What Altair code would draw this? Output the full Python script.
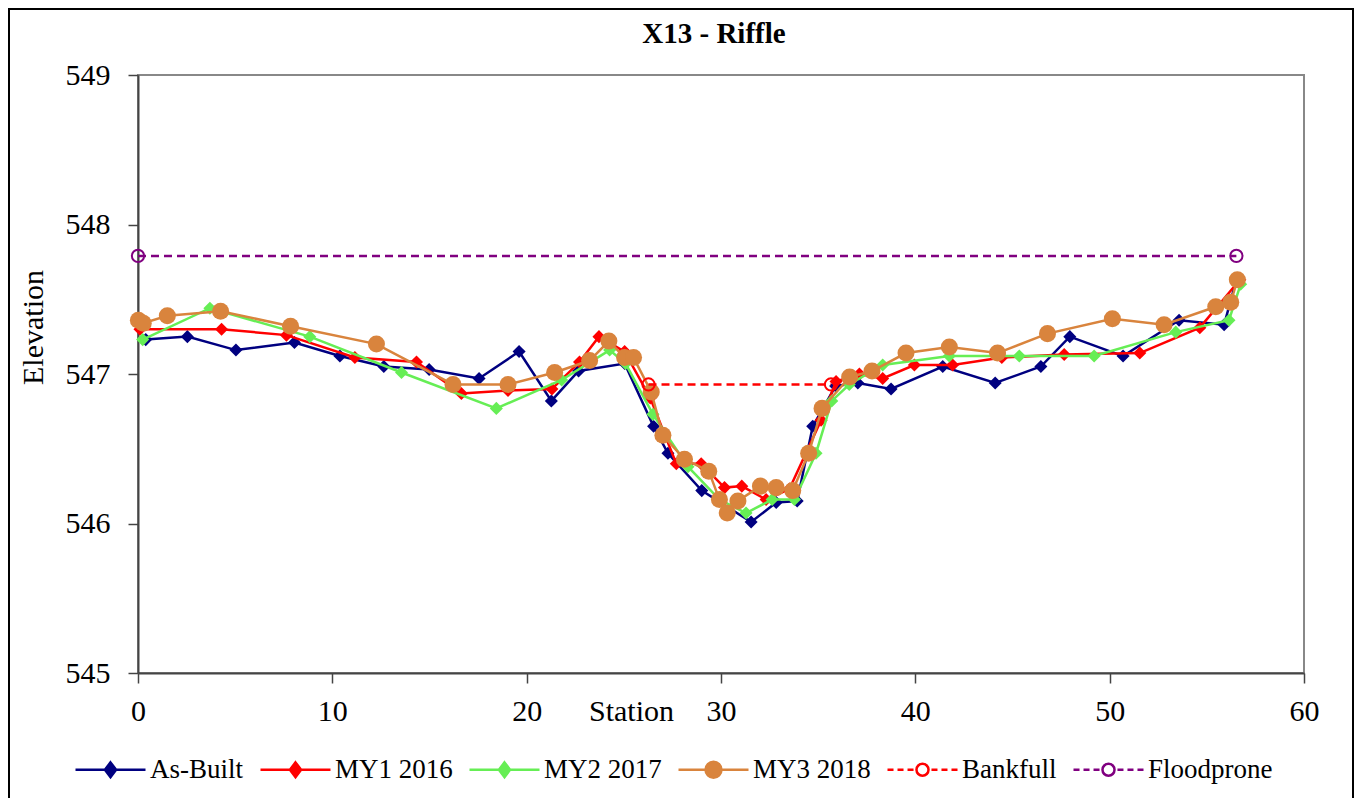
import altair as alt
import pandas as pd

# ---------------- data ----------------
series_names = ["As-Built", "MY1 2016", "MY2 2017", "MY3 2018", "Bankfull", "Floodprone"]
series_colors = ["#000080", "#FF0000", "#66EE55", "#D9843D", "#FF0000", "#800080"]

asbuilt_x = [0.4, 2.54, 5.04, 8.05, 10.39, 12.65, 14.98, 17.55, 19.61, 21.27, 22.67, 25.04,
             26.53, 27.27, 29.01, 31.55, 32.84, 33.92, 34.72, 35.9, 37.04, 38.75, 41.41,
             44.11, 46.46, 47.95, 50.69, 53.57, 55.89, 56.5]
asbuilt_y = [547.23, 547.25, 547.16, 547.21, 547.12, 547.05, 547.03, 546.97, 547.15, 546.82,
             547.02, 547.07, 546.65, 546.47, 546.22, 546.01, 546.14, 546.15, 546.65, 546.92,
             546.94, 546.90, 547.05, 546.94, 547.05, 547.25, 547.12, 547.36, 547.33, 547.62]

my1_x = [0.1, 4.3, 7.64, 11.16, 14.33, 16.64, 19.04, 21.3, 22.72, 23.72, 25.04, 26.36, 27.7,
         28.98, 30.18, 31.07, 32.32, 33.52, 35.15, 35.92, 37.12, 38.32, 39.95, 41.92, 44.45,
         47.66, 51.55, 54.64, 56.7]
my1_y = [547.30, 547.30, 547.26, 547.11, 547.08, 546.87, 546.89, 546.90, 547.08, 547.25,
         547.15, 546.84, 546.40, 546.40, 546.24, 546.25, 546.16, 546.23, 546.69, 546.95,
         547.00, 546.97, 547.06, 547.06, 547.11, 547.13, 547.14, 547.31, 547.63]

my2_x = [0.24, 3.70, 8.84, 13.56, 18.44, 21.8, 24.27, 25.09, 26.5, 28.3, 29.92, 31.29, 32.63,
         33.78, 34.89, 35.7, 36.6, 38.32, 41.75, 45.35, 49.2, 53.4, 56.14, 56.74]
my2_y = [547.23, 547.44, 547.25, 547.01, 546.77, 546.96, 547.16, 547.07, 546.73, 546.38,
         546.16, 546.07, 546.16, 546.16, 546.47, 546.82, 546.93, 547.06, 547.12, 547.12,
         547.12, 547.28, 547.36, 547.60]

my3_x = [0.02, 0.27, 1.51, 4.25, 7.85, 12.27, 16.21, 19.04, 21.44, 23.24, 24.23, 25.04, 25.5,
         26.41, 27.01, 28.12, 29.37, 29.92, 30.32, 30.87, 32.03, 32.84, 33.69, 34.51, 35.2,
         36.62, 37.77, 39.52, 41.75, 44.23, 46.8, 50.14, 52.8, 55.46, 56.23, 56.57]
my3_y = [547.36, 547.34, 547.39, 547.42, 547.32, 547.20, 546.93, 546.93, 547.01, 547.09,
         547.22, 547.11, 547.11, 546.88, 546.59, 546.43, 546.35, 546.16, 546.07, 546.15,
         546.25, 546.24, 546.22, 546.47, 546.77, 546.98, 547.02, 547.14, 547.18, 547.14,
         547.27, 547.37, 547.33, 547.45, 547.48, 547.63]

bankfull_x = [26.27, 35.66]
bankfull_y = [546.93, 546.93]

floodprone_x = [0.0, 56.52]
floodprone_y = [547.79, 547.79]

x_ticks = [0, 10, 20, 30, 40, 50, 60]
y_ticks = [545, 546, 547, 548, 549]

chart_title = "X13 - Riffle"
x_title = "Station"
y_title = "Elevation"

# ---------------- build table ----------------
all_x = [asbuilt_x, my1_x, my2_x, my3_x, bankfull_x, floodprone_x]
all_y = [asbuilt_y, my1_y, my2_y, my3_y, bankfull_y, floodprone_y]
frames = []
for name, xs, ys in zip(series_names, all_x, all_y):
    frames.append(pd.DataFrame({"series": name, "station": xs, "elevation": ys}))
df = pd.concat(frames, ignore_index=True)

FONT = "Liberation Serif"

x_enc = alt.X(
    "station:Q",
    scale=alt.Scale(domain=[0, 60], nice=False, zero=False),
    axis=alt.Axis(
        values=x_ticks, format="d", grid=False, title=x_title,
        titleX=493, titleY=47, titleAlign="center", titleBaseline="alphabetic",
        titleFont=FONT, titleFontSize=30, titleFontWeight="normal", titleColor="black",
        labelFont=FONT, labelFontSize=30, labelColor="black", labelFlush=False,
        labelPadding=13, tickSize=10, tickColor="#444444", tickWidth=1.5,
        domainColor="#444444", domainWidth=2, labelOverlap=False,
    ),
)
y_enc = alt.Y(
    "elevation:Q",
    scale=alt.Scale(domain=[545, 549], nice=False, zero=False),
    axis=alt.Axis(
        values=y_ticks, format="d", grid=False, title=y_title,
        titleX=-96, titleY=252, titleAngle=270, titleAlign="center",
        titleBaseline="alphabetic",
        titleFont=FONT, titleFontSize=30, titleFontWeight="normal", titleColor="black",
        labelFont=FONT, labelFontSize=30, labelColor="black", labelFlush=False,
        labelPadding=18, tickSize=10, tickColor="#444444", tickWidth=1.5,
        domainColor="#444444", domainWidth=2, labelOverlap=False,
    ),
)

marker_shape = ["diamond", "diamond", "diamond", "circle", "circle", "circle"]
marker_size = [170, 170, 170, 290, 150, 150]
marker_filled = [True, True, True, True, False, False]
dashed = [False, False, False, False, True, True]

layers = []
for i, name in enumerate(series_names):
    base = alt.Chart(df).transform_filter(alt.datum.series == name)
    line_kwargs = dict(color=series_colors[i], strokeWidth=2.5)
    if dashed[i]:
        line_kwargs["strokeDash"] = [8, 5]
    line = base.mark_line(**line_kwargs).encode(x=x_enc, y=y_enc)
    if marker_filled[i]:
        pts = base.mark_point(shape=marker_shape[i], size=marker_size[i], filled=True,
                              color=series_colors[i], opacity=1)
    else:
        pts = base.mark_point(shape=marker_shape[i], size=marker_size[i], filled=False,
                              color=series_colors[i], strokeWidth=2, opacity=1)
    layers.append(line)
    layers.append(pts.encode(x=x_enc, y=y_enc))

# ---------------- legend (line + marker symbols) ----------------
diamond_sym = "M-1,0H9M4,-1.05L4.8,0L4,1.05L3.2,0Z"
circle_sym = "M-1,0H9M2.86,0A1.14,1.14,0,1,1,5.14,0A1.14,1.14,0,1,1,2.86,0Z"
dash_circle_sym = ("M-1,0H-0.14M0.43,0H1.29M1.86,0H2.72"
                   "M3.14,0A0.86,0.86,0,1,1,4.86,0A0.86,0.86,0,1,1,3.14,0Z"
                   "M5.28,0H6.14M6.71,0H7.57M8.14,0H9")
legend_shapes = [diamond_sym, diamond_sym, diamond_sym, circle_sym, dash_circle_sym, dash_circle_sym]
legend_fills = series_colors[:4] + ["transparent", "transparent"]

legend_df = pd.DataFrame({"series": series_names})
legend_layer = (
    alt.Chart(legend_df)
    .transform_filter("datum.series == '__none__'")
    .mark_point(filled=True, opacity=1)
    .encode(
        shape=alt.Shape("series:N", scale=alt.Scale(domain=series_names, range=legend_shapes),
                        legend=alt.Legend(title=None)),
        fill=alt.Fill("series:N", scale=alt.Scale(domain=series_names, range=legend_fills),
                      legend=alt.Legend(title=None)),
        stroke=alt.Stroke("series:N", scale=alt.Scale(domain=series_names, range=series_colors),
                          legend=alt.Legend(title=None)),
    )
)
layers.append(legend_layer)

# ---------------- title text & outer frame ----------------
title_layer = (
    alt.Chart(pd.DataFrame({"t": [chart_title]}))
    .mark_text(font=FONT, fontSize=29, fontWeight="bold", align="center",
               baseline="alphabetic", color="black")
    .encode(text="t:N", x=alt.value(576), y=alt.value(-32))
)
frame_layer = (
    alt.Chart(pd.DataFrame({"t": [0]}))
    .mark_rect(fillOpacity=0, stroke="black", strokeWidth=2)
    .encode(x=alt.value(-129), x2=alt.value(1215), y=alt.value(-66), y2=alt.value(760))
)

chart = (
    alt.layer(frame_layer, *layers, title_layer)
    .properties(
        width=1166, height=598,
        autosize=alt.AutoSizeParams(type="none"),
        padding={"left": 130, "top": 67, "right": 52, "bottom": 125},
        background="white",
    )
    .configure_view(stroke="#888888", strokeWidth=2)
    .configure_legend(
        orient="none", legendX=-69, legendY=681, direction="horizontal", columns=6,
        symbolSize=196, symbolStrokeWidth=2.5, labelOffset=54, columnPadding=10,
        labelFont=FONT, labelFontSize=27, labelColor="black", padding=0,
        labelLimit=400, symbolType="circle",
    )
)

chart.save("out.html", embed_options={"renderer": "svg", "actions": False})
